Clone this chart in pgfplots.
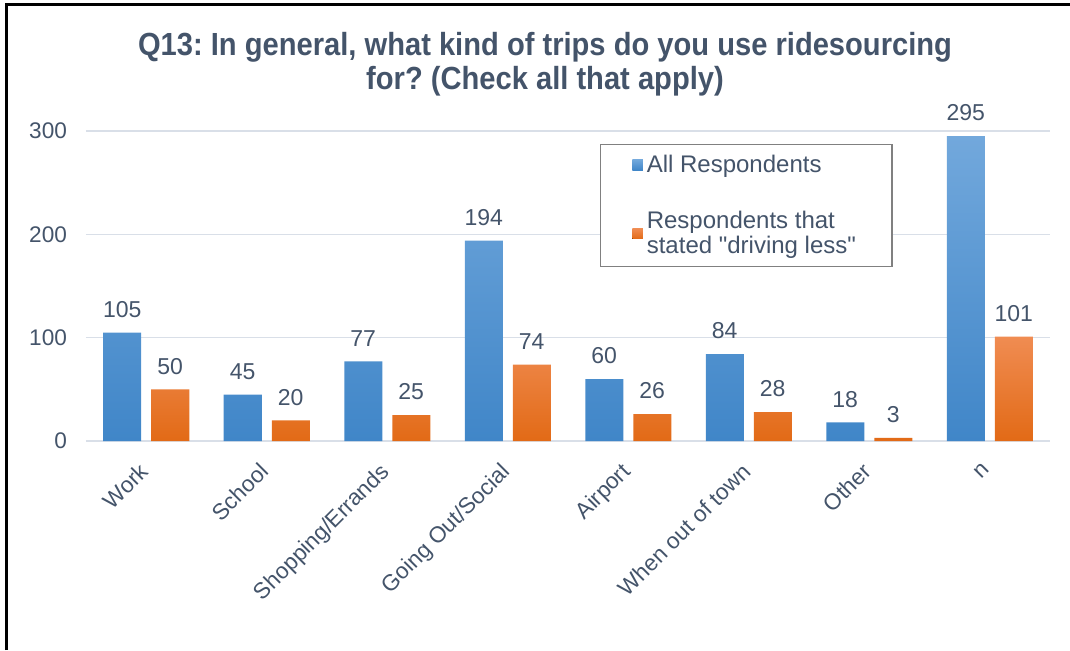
\documentclass[border=0pt]{standalone}
\usepackage{pgfplots}
\pgfplotsset{compat=1.18}
\usepackage{fontspec}
\setmainfont{Liberation Sans}
\newfontfamily\titlefont[FakeStretch=0.91]{Liberation Sans}
\newfontfamily\nomapfont[Ligatures=TeXOff]{Liberation Sans}
\definecolor{textc}{RGB}{68,84,106}
\definecolor{gridc}{RGB}{217,223,232}
\definecolor{blueT}{RGB}{114,168,220}
\definecolor{blueB}{RGB}{64,134,200}
\definecolor{orT}{RGB}{240,140,82}
\definecolor{orB}{RGB}{226,106,22}
\frenchspacing
\begin{document}
\begin{tikzpicture}
\useasboundingbox (0,0) rectangle (535pt,325pt);
\draw[line width=1.5pt] (3pt,0pt) -- (3pt,323pt) -- (535pt,323pt);
\node[font=\titlefont\bfseries\fontsize{16}{17}\selectfont, text=textc, align=center] at (272.5pt,293pt)
  {Q13: In general, what kind of trips do you use ridesourcing\\for? (Check all that apply)};
\begin{axis}[
  at={(43pt,104.5pt)}, anchor=south west,
  scale only axis, width=482pt, height=155pt,
  ybar=5pt, bar width=19pt,
  xmin=-0.5, xmax=7.5, ymin=0, ymax=300,
  xtick=data,
  xticklabels={Work,School,Shopping/Errands,Going Out/Social,Airport,When out of town,Other,n},
  x tick label style={rotate=45, anchor=north east, font=\fontsize{11.3}{12}\selectfont, text=textc, inner sep=2pt, xshift=-8pt, yshift=-2.2pt},
  ytick={0,100,200,300},
  y tick label style={font=\fontsize{11.3}{12}\selectfont, text=textc, xshift=-6pt},
  /pgf/number format/assume math mode=true,
  ymajorgrids, grid style={gridc, line width=0.8pt},
  axis line style={draw=none},
  major tick length=0pt,
  xtick style={draw=none}, ytick style={draw=none},
  axis x line*=bottom, axis y line*=left,
  nodes near coords,
  every node near coord/.append style={font=\fontsize{11.5}{12}\selectfont, text=textc, yshift=4pt},
  legend style={at={(rel axis cs:0.533,0.958)}, anchor=north west, draw=gray, line width=0.6pt,
    font=\nomapfont\fontsize{12}{12.5}\selectfont, text=textc, inner xsep=16pt, inner ysep=3pt,
    row sep=14pt, cells={anchor=west, align=left}},
  legend image code/.code={\fill[#1,draw=none] (0pt,-2.6pt) rectangle (5.2pt,2.6pt);},
  legend cell align=left,
]
\addplot[draw=none, top color=blueT, bottom color=blueB, shading=axis] coordinates
  {(0,105) (1,45) (2,77) (3,194) (4,60) (5,84) (6,18) (7,295)};
\addplot[draw=none, top color=orT, bottom color=orB, shading=axis] coordinates
  {(0,50) (1,20) (2,25) (3,74) (4,26) (5,28) (6,3) (7,101)};
\legend{All Respondents, {Respondents that\\stated "driving less"}}
\end{axis}
\end{tikzpicture}
\end{document}
